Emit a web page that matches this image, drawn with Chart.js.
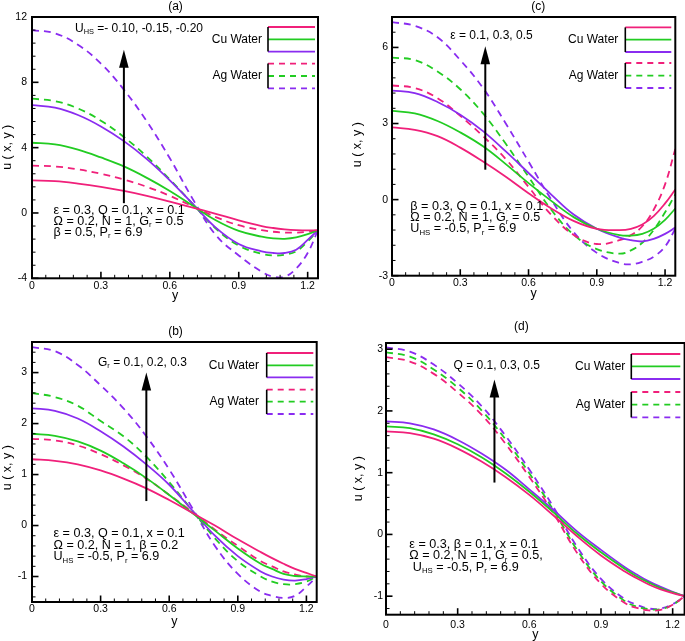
<!DOCTYPE html>
<html><head><meta charset="utf-8">
<script src="https://cdn.jsdelivr.net/npm/chart.js@4.4.0/dist/chart.umd.min.js"></script>
<style>
html,body{margin:0;padding:0;background:#fff;width:685px;height:641px;overflow:hidden;position:relative}
canvas{position:absolute}
</style></head><body>
<script>
const FONT = '"Liberation Sans", Arial, Helvetica, sans-serif';
const PINK = '#f0207a', GREEN = '#22cc22', PURPLE = '#8a2cf0';

// ---------- Panel (a): U_HS ----------
const aY = [0,0.1,0.2,0.3,0.4,0.5,0.6,0.7,0.8,0.9,1.0,1.05,1.1,1.15,1.2,1.245];
const aCu1 = [2.0,1.95,1.8,1.6,1.35,1.05,0.7,0.33,-0.05,-0.45,-0.8,-0.92,-1.0,-1.05,-1.07,-1.05];
const aCu2 = [4.3,4.2,3.88,3.4,2.85,2.15,1.35,0.45,-0.45,-1.1,-1.45,-1.55,-1.58,-1.5,-1.3,-1.05];
const aCu3 = [6.6,6.45,6.0,5.3,4.4,3.3,2.0,0.55,-0.9,-1.9,-2.35,-2.45,-2.45,-2.25,-1.65,-1.05];
const aAg1 = [2.9,2.85,2.67,2.4,2.05,1.6,1.05,0.4,-0.25,-0.75,-1.05,-1.15,-1.2,-1.2,-1.15,-1.05];
const aAg2 = [7.0,6.85,6.4,5.65,4.65,3.45,2.05,0.55,-0.95,-2.0,-2.5,-2.6,-2.55,-2.35,-1.75,-1.05];
const aAg3 = [11.2,11.0,10.3,9.15,7.55,5.6,3.35,0.85,-1.35,-2.6,-3.6,-3.9,-3.9,-3.4,-2.45,-1.05];
const aXTicks = [0,0.3,0.6,0.9,1.2];
const aYTicks = [-4,0,4,8,12];
const aArrow = [0.40, 0.6, 10.0];

// ---------- Panel (c): epsilon ----------
const cY = [0,0.1,0.2,0.3,0.4,0.5,0.6,0.7,0.8,0.9,1.0,1.05,1.1,1.15,1.2,1.245];
const cCu1 = [2.85,2.75,2.5,2.05,1.5,0.9,0.25,-0.35,-0.85,-1.15,-1.2,-1.15,-0.98,-0.65,-0.15,0.4];
const cCu2 = [3.5,3.4,3.1,2.65,2.1,1.4,0.65,-0.05,-0.7,-1.15,-1.4,-1.42,-1.35,-1.15,-0.8,-0.35];
const cCu3 = [4.3,4.2,3.85,3.35,2.7,1.9,1.05,0.2,-0.6,-1.15,-1.5,-1.6,-1.65,-1.55,-1.35,-1.1];
const cAg1 = [4.5,4.4,4.0,3.3,2.5,1.6,0.5,-0.6,-1.4,-1.75,-1.6,-1.4,-1.05,-0.4,0.6,2.0];
const cAg2 = [5.6,5.5,5.05,4.35,3.4,2.2,0.9,-0.4,-1.4,-1.95,-2.13,-2.0,-1.7,-1.2,-0.5,0.2];
const cAg3 = [7.0,6.85,6.4,5.5,4.4,3.0,1.5,0.0,-1.3,-2.1,-2.5,-2.55,-2.45,-2.25,-1.85,-1.15];
const cXTicks = [0,0.3,0.6,0.9,1.2];
const cYTicks = [-3,0,3,6];
const cArrow = [0.41, 1.18, 6.05];

// ---------- Panel (b): Gr ----------
const bY = [0,0.1,0.2,0.3,0.4,0.5,0.6,0.7,0.8,0.9,1.0,1.05,1.1,1.15,1.2,1.245];
const bCu1 = [1.3,1.27,1.2,1.08,0.92,0.73,0.5,0.25,0.0,-0.27,-0.52,-0.64,-0.75,-0.85,-0.93,-1.0];
const bCu2 = [1.8,1.76,1.65,1.47,1.22,0.93,0.6,0.25,-0.1,-0.45,-0.75,-0.85,-0.95,-0.99,-1.0,-1.0];
const bCu3 = [2.3,2.25,2.1,1.85,1.55,1.2,0.8,0.3,-0.2,-0.6,-0.9,-1.0,-1.06,-1.08,-1.05,-1.0];
const bAg1 = [1.7,1.67,1.57,1.4,1.18,0.92,0.6,0.27,-0.08,-0.4,-0.7,-0.8,-0.9,-0.96,-1.0,-1.0];
const bAg2 = [2.6,2.52,2.35,2.05,1.75,1.35,0.85,0.3,-0.25,-0.7,-1.0,-1.1,-1.15,-1.15,-1.1,-1.0];
const bAg3 = [3.5,3.42,3.15,2.75,2.3,1.75,1.1,0.35,-0.4,-0.95,-1.3,-1.38,-1.42,-1.38,-1.2,-1.0];
const bXTicks = [0,0.3,0.6,0.9,1.2];
const bYTicks = [-1,0,1,2,3];
const bArrow = [0.50, 0.48, 3.0];

// ---------- Panel (d): Q ----------
const dY = [0,0.1,0.2,0.3,0.4,0.5,0.6,0.7,0.8,0.9,1.0,1.05,1.1,1.15,1.2,1.25];
const dCu1 = [1.67,1.64,1.55,1.39,1.18,0.93,0.64,0.31,-0.03,-0.34,-0.6,-0.71,-0.81,-0.89,-0.95,-1.0];
const dCu2 = [1.75,1.72,1.62,1.46,1.25,0.99,0.69,0.36,0.01,-0.29,-0.56,-0.68,-0.78,-0.87,-0.94,-1.0];
const dCu3 = [1.83,1.8,1.7,1.53,1.31,1.05,0.73,0.4,0.05,-0.25,-0.53,-0.65,-0.76,-0.85,-0.93,-1.0];
const dAg1 = [2.87,2.8,2.6,2.3,1.94,1.47,0.93,0.35,-0.3,-0.8,-1.11,-1.19,-1.23,-1.22,-1.14,-1.0];
const dAg2 = [2.95,2.88,2.67,2.38,2.01,1.54,0.99,0.4,-0.25,-0.76,-1.08,-1.17,-1.21,-1.21,-1.14,-1.0];
const dAg3 = [3.03,2.96,2.75,2.45,2.08,1.6,1.05,0.45,-0.2,-0.72,-1.05,-1.14,-1.2,-1.2,-1.13,-1.0];
const dXTicks = [0,0.3,0.6,0.9,1.2];
const dYTicks = [-1,0,1,2,3];
const dArrow = [0.454, 0.84, 2.51];

const seriesNames = ['Cu Water','Ag Water'];
const seriesColors = [PINK, GREEN, PURPLE];

// ---------- layout (page pixel positions) ----------
const panels = [
  { label:'(a)', xs:aY, cu:[aCu1,aCu2,aCu3], ag:[aAg1,aAg2,aAg3], xTicks:aXTicks, yTicks:aYTicks, arrow:aArrow,
    xMax:1.245, yMin:-4, yMax:12, xMinor:0.06, yMinor:0.8,
    area:[32,16.7,318,278], xPad:2, yPad:5,
    title:[175.5,6], yTitle:[7.5,147], xTitle:[175,295],
    head:['U_{HS} =- 0.10, -0.15, -0.20',75,28],
    params:['ε = 0.3, Q = 0.1, x = 0.1','Ω = 0.2, N = 1, G_{r} = 0.5','β = 0.5, P_{r} = 6.9'], px:53.5, py:[210,221,232],
    leg:{end:262, x1:268, x2:315, cu:[26.7,39,51.3], ag:[63.3,75.7,88]} },
  { label:'(c)', xs:cY, cu:[cCu1,cCu2,cCu3], ag:[cAg1,cAg2,cAg3], xTicks:cXTicks, yTicks:cYTicks, arrow:cArrow,
    xMax:1.245, yMin:-3, yMax:7.2, xMinor:0.06, yMinor:0.6,
    area:[391.7,17.3,675,276], xPad:1.5, yPad:4,
    title:[538,7], yTitle:[357.5,145], xTitle:[533.4,294],
    head:['ε = 0.1, 0.3, 0.5',450,36],
    params:['β = 0.3, Q = 0.1, x = 0.1','Ω = 0.2, N = 1, G_{r} = 0.5','U_{HS} = -0.5, P_{r} = 6.9'], px:410, py:[207,218,229],
    leg:{end:618, x1:625, x2:671, cu:[27.7,40,52.3], ag:[63.3,76,88.3]} },
  { label:'(b)', xs:bY, cu:[bCu1,bCu2,bCu3], ag:[bAg1,bAg2,bAg3], xTicks:bXTicks, yTicks:bYTicks, arrow:bArrow,
    xMax:1.245, yMin:-1.5, yMax:3.6, xMinor:0.06, yMinor:0.2,
    area:[32,342.3,316.7,602.3], xPad:1, yPad:5,
    title:[175.5,331.7], yTitle:[7.5,468], xTitle:[174.3,621.5],
    head:['G_{r} = 0.1, 0.2, 0.3',98,362.7],
    params:['ε = 0.3, Q = 0.1, x = 0.1','Ω = 0.2, N = 1, β = 0.2','U_{HS} = -0.5, P_{r} = 6.9'], px:53.5, py:[534,545.5,557],
    leg:{end:259, x1:266.7, x2:313.3, cu:[353.3,365.7,377.7], ag:[390,402,414.3]} },
  { label:'(d)', xs:dY, cu:[dCu1,dCu2,dCu3], ag:[dAg1,dAg2,dAg3], xTicks:dXTicks, yTicks:dYTicks, arrow:dArrow,
    xMax:1.25, yMin:-1.3, yMax:3.1, xMinor:0.06, yMinor:0.2,
    area:[385.7,343.3,684.3,615], xPad:4, yPad:3,
    title:[521,327.3], yTitle:[358,479], xTitle:[535,635],
    head:['Q = 0.1, 0.3, 0.5',453.3,366],
    params:['ε = 0.3, β = 0.1, x = 0.1','Ω = 0.2, N = 1, G_{r} = 0.5,',' U_{HS} = -0.5, P_{r} = 6.9'], px:409, py:[544.5,556,567.5],
    leg:{end:625, x1:631, x2:680, cu:[354.3,366.7,379.3], ag:[392.3,405,417.7]} }
];

function drawRich(ctx, str, x, y, size, align) {
  const parts = []; const re = /_\{([^}]*)\}/g; let last = 0, m;
  while ((m = re.exec(str))) {
    if (m.index > last) parts.push({t:str.slice(last, m.index), sub:false});
    parts.push({t:m[1], sub:true}); last = re.lastIndex;
  }
  if (last < str.length) parts.push({t:str.slice(last), sub:false});
  const mainF = size + 'px ' + FONT, subF = (size*0.62).toFixed(1) + 'px ' + FONT;
  let w = 0;
  parts.forEach(p => { ctx.font = p.sub ? subF : mainF; p.w = ctx.measureText(p.t).width; w += p.w; });
  let cx = align === 'right' ? x - w : (align === 'center' ? x - w/2 : x);
  ctx.textBaseline = 'middle'; ctx.textAlign = 'left'; ctx.fillStyle = '#000';
  parts.forEach(p => { ctx.font = p.sub ? subF : mainF; ctx.fillText(p.t, cx, p.sub ? y + size*0.32 : y); cx += p.w; });
}

const fmt = v => String(+(+v).toFixed(2));

function makeDeco(p) {
  return {
    id: 'deco',
    afterDraw(chart) {
      const ctx = chart.ctx, ca = chart.chartArea;
      const sx = chart.scales.x, sy = chart.scales.y;
      const X = v => v - p.ox, Y = v => v - p.oy;
      ctx.save();
      ctx.strokeStyle = '#000'; ctx.fillStyle = '#000';
      const isMajor = (v, arr) => arr.some(t => Math.abs(t - v) < 1e-6);
      for (let k = 0; k * p.xMinor <= p.xMax + 1e-9; k++) {
        const v = k * p.xMinor, px = sx.getPixelForValue(v);
        const maj = isMajor(v, p.xTicks);
        ctx.lineWidth = maj ? 1.6 : 1;
        ctx.beginPath(); ctx.moveTo(px, ca.bottom); ctx.lineTo(px, ca.bottom - (maj ? 6.5 : 3.5)); ctx.stroke();
      }
      for (let k = Math.ceil(p.yMin / p.yMinor - 1e-9); k * p.yMinor <= p.yMax + 1e-9; k++) {
        const v = k * p.yMinor, py = sy.getPixelForValue(v);
        const maj = isMajor(v, p.yTicks);
        ctx.lineWidth = maj ? 1.6 : 1;
        ctx.beginPath(); ctx.moveTo(ca.left, py); ctx.lineTo(ca.left + (maj ? 6.5 : 3.5), py); ctx.stroke();
      }
      ctx.lineWidth = 2;
      ctx.strokeRect(ca.left, ca.top, ca.right - ca.left, ca.bottom - ca.top);
      const ax = sx.getPixelForValue(p.arrow[0]);
      const a0 = sy.getPixelForValue(p.arrow[1]), a1 = sy.getPixelForValue(p.arrow[2]);
      ctx.lineWidth = 2;
      ctx.beginPath(); ctx.moveTo(ax, a0); ctx.lineTo(ax, a1 + 15); ctx.stroke();
      ctx.beginPath(); ctx.moveTo(ax, a1); ctx.lineTo(ax - 4.8, a1 + 18); ctx.lineTo(ax + 4.8, a1 + 18); ctx.closePath(); ctx.fill();
      const L = p.leg;
      [[L.cu, []], [L.ag, [6,5]]].forEach(([ys, dash], gi) => {
        ys.forEach((yy, i) => {
          ctx.strokeStyle = seriesColors[i]; ctx.lineWidth = 1.8; ctx.setLineDash(dash);
          ctx.beginPath(); ctx.moveTo(X(L.x1), Y(yy)); ctx.lineTo(X(L.x2), Y(yy)); ctx.stroke();
        });
        ctx.setLineDash([]); ctx.strokeStyle = '#000'; ctx.lineWidth = 1.6;
        ctx.beginPath(); ctx.moveTo(X(L.x1), Y(ys[0])); ctx.lineTo(X(L.x1), Y(ys[2])); ctx.stroke();
        drawRich(ctx, seriesNames[gi], X(L.end), Y(ys[1]), 12, 'right');
      });
      drawRich(ctx, p.label, X(p.title[0]), Y(p.title[1]), 12, 'center');
      drawRich(ctx, 'y', X(p.xTitle[0]), Y(p.xTitle[1]), 12.5, 'center');
      ctx.save(); ctx.translate(X(p.yTitle[0]), Y(p.yTitle[1])); ctx.rotate(-Math.PI/2);
      drawRich(ctx, 'u ( x, y )', 0, 0, 12.5, 'center'); ctx.restore();
      drawRich(ctx, p.head[0], X(p.head[1]), Y(p.head[2]), 12, 'left');
      p.params.forEach((s, i) => drawRich(ctx, s, X(p.px), Y(p.py[i]), 12.6, 'left'));
      ctx.restore();
    }
  };
}

panels.forEach(p => {
  const [L, T, R, B] = p.area;
  p.ox = L - 45; p.oy = T - 25;
  const W = Math.ceil(R - L + 51), H = Math.ceil(B - T + 25 + 34);
  const padRight = W - 45 - (R - L);
  const xAxisH = H - 25 - (B - T);
  const cv = document.createElement('canvas');
  cv.width = W; cv.height = H;
  cv.style.left = p.ox + 'px'; cv.style.top = p.oy + 'px';
  cv.style.width = W + 'px'; cv.style.height = H + 'px';
  document.body.appendChild(cv);
  const datasets = [];
  p.cu.forEach((arr, i) => datasets.push({ data: p.xs.map((x, j) => ({x, y: arr[j]})),
    borderColor: seriesColors[i], borderWidth: 1.8, pointRadius: 0, tension: 0.4, fill: false }));
  p.ag.forEach((arr, i) => datasets.push({ data: p.xs.map((x, j) => ({x, y: arr[j]})),
    borderColor: seriesColors[i], borderWidth: 1.8, borderDash: [7,5], pointRadius: 0, tension: 0.4, fill: false }));
  new Chart(cv, {
    type: 'line',
    data: { datasets },
    options: {
      responsive: false, animation: false, devicePixelRatio: 1,
      layout: { padding: { top: 25, left: 0, right: padRight, bottom: 0 } },
      plugins: { legend: { display: false }, tooltip: { enabled: false } },
      scales: {
        x: { type: 'linear', position: 'bottom', min: 0, max: p.xMax,
             afterFit: s => { s.height = xAxisH; },
             afterBuildTicks: s => { s.ticks = p.xTicks.map(v => ({value: v})); },
             grid: { display: false, drawTicks: false }, border: { display: false },
             ticks: { padding: p.xPad, color: '#000', font: { family: FONT, size: 10.5 }, maxRotation: 0, autoSkip: false, callback: v => fmt(v) } },
        y: { type: 'linear', position: 'left', min: p.yMin, max: p.yMax,
             afterFit: s => { s.width = 45; },
             afterBuildTicks: s => { s.ticks = p.yTicks.map(v => ({value: v})); },
             grid: { display: false, drawTicks: false }, border: { display: false },
             ticks: { padding: p.yPad, color: '#000', font: { family: FONT, size: 10.5 }, autoSkip: false, callback: v => fmt(v) } }
      }
    },
    plugins: [makeDeco(p)]
  });
});
</script>
</body></html>
